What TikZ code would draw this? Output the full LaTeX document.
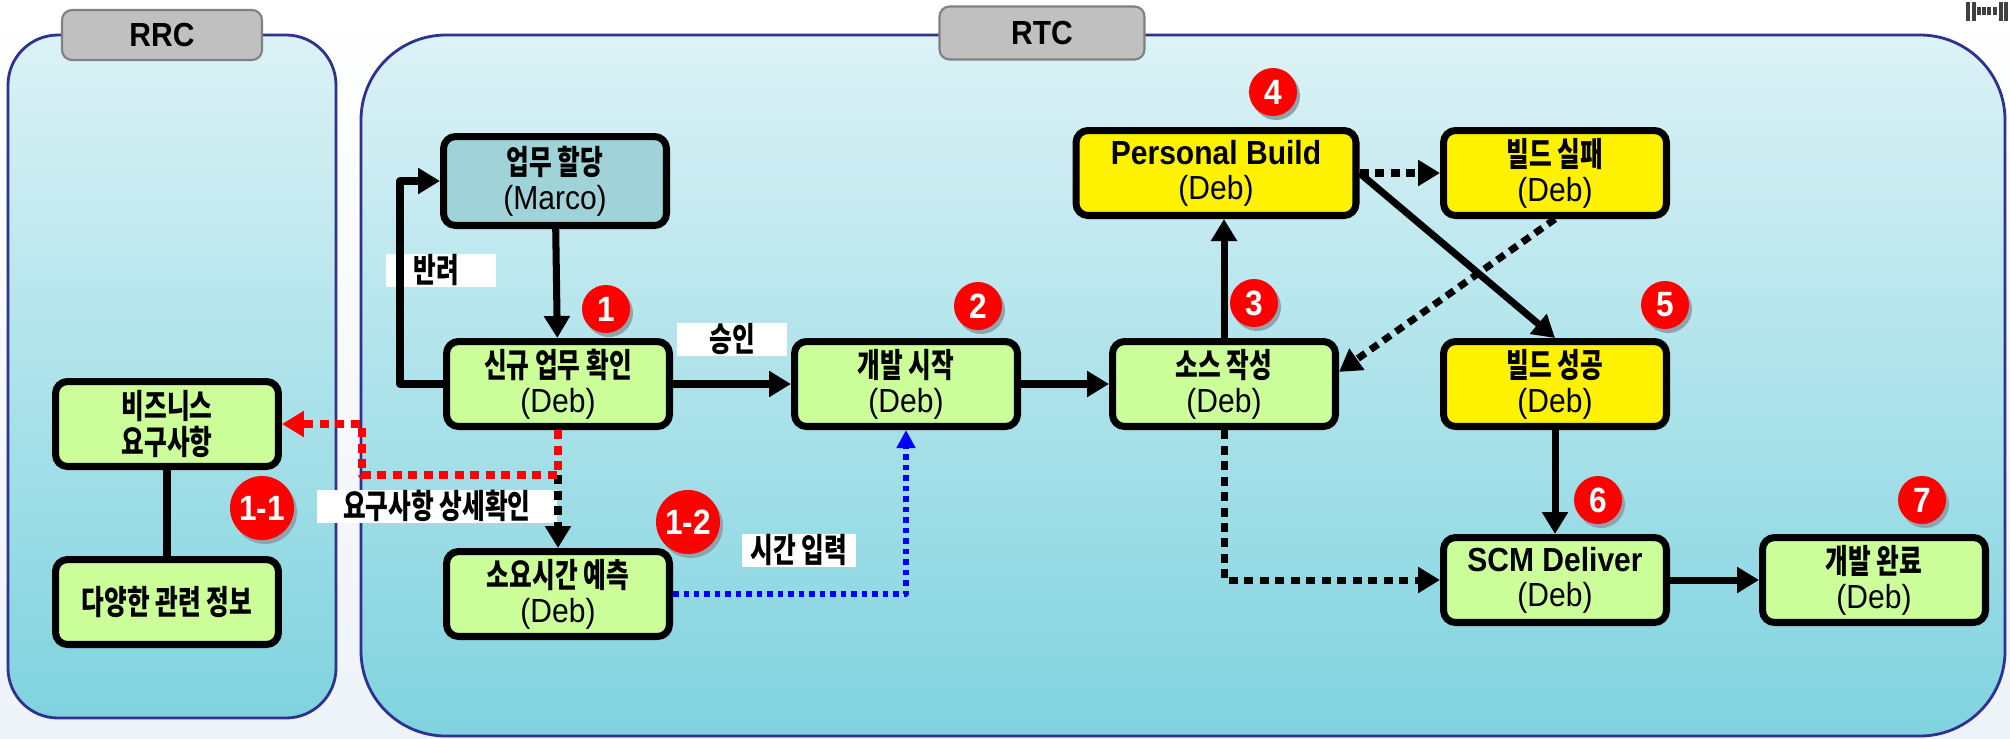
\documentclass[tikz,border=0pt]{standalone}
\usepackage{fontspec}
\setmainfont{Liberation Sans}[FakeStretch=0.9]
\newfontfamily\krfont{Noto Sans CJK KR}[FakeStretch=0.74]
\newcommand{\kr}[1]{{\krfont\bfseries #1}}
\usetikzlibrary{arrows.meta}
\definecolor{boxgreen}{HTML}{CCFF99}
\definecolor{boxteal}{HTML}{A0D3D8}
\definecolor{panetop}{HTML}{DCF2F6}
\definecolor{panebot}{HTML}{7FD3DF}
\definecolor{paneline}{HTML}{2E3192}
\definecolor{tabgray}{HTML}{C0C0C0}
\definecolor{bgbot}{HTML}{EEF3FA}
\definecolor{badgeshade}{HTML}{8FA3AD}
\tikzset{
  pane/.style={draw=paneline, line width=1.6pt, top color=panetop, bottom color=panebot},
  tab/.style={draw=gray, fill=tabgray, line width=1.2pt, rounded corners=0.2cm, font=\fontsize{19}{19}\selectfont\bfseries},
  box/.style={draw, line width=4pt, rounded corners=0.24cm, minimum width=4.46cm, minimum height=1.7cm,
    inner sep=0pt, align=center, font=\fontsize{19}{20}\selectfont},
  gbox/.style={box, fill=boxgreen},
  ybox/.style={box, fill=yellow},
  tbox/.style={box, fill=boxteal},
  flow/.style={line width=4pt, -{Triangle[length=0.44cm,width=0.5cm]}},
  dflow/.style={flow, dash pattern=on 0.18cm off 0.13cm},
  rflow/.style={dflow, red},
  bflow/.style={line width=3pt, blue, dash pattern=on 0.11cm off 0.1cm, -{Triangle[length=0.36cm,width=0.36cm]}},
  tag/.style={fill=white, inner sep=0pt, minimum height=0.66cm, font=\fontsize{19}{19}\selectfont\krfont\bfseries},
  badgetxt/.style={text=white, inner sep=0pt, font=\fontsize{20}{20}\selectfont\bfseries}
}
\begin{document}
\begin{tikzpicture}[x=0.02cm, y=-0.02cm, line join=round]
\useasboundingbox (0,0) rectangle (2010,738);
\fill[top color=white, bottom color=bgbot] (0,0) rectangle (2010,738);

% panels
\draw[pane, rounded corners=1cm] (8,35) rectangle (336,718);
\draw[pane, rounded corners=1.7cm] (361,35) rectangle (2005,736);
\node[tab, minimum width=4cm, minimum height=1cm] (rrc) at (162,35) {RRC};
\node[tab, minimum width=4.1cm, minimum height=1.06cm] (rtc) at (1042,33) {RTC};
\foreach \bx in {1966,1972,1999,2004} \fill[black!75] (\bx,2) rectangle ++(4,19);
\foreach \bx in {1977,1982,1987,1993} \fill[black!75] (\bx,7) rectangle ++(3.5,8);

% RRC
\node[gbox] (biz) at (167,424) {\kr{비즈니스}\\\kr{요구사항}};
\node[gbox] (info) at (167,602) {\kr{다양한 관련 정보}};

% RTC
\node[tbox, minimum height=1.78cm] (assign) at (555,181) {\kr{업무 할당}\\(Marco)};
\node[gbox] (newtask) at (558,384) {\kr{신규 업무 확인}\\(Deb)};
\node[gbox] (estimate) at (558,594) {\kr{소요시간 예측}\\(Deb)};
\node[gbox] (devstart) at (906,384) {\kr{개발 시작}\\(Deb)};
\node[gbox] (source) at (1224,384) {\kr{소스 작성}\\(Deb)};
\node[ybox, minimum width=5.6cm] (pbuild) at (1216,173) {\textbf{Personal Build}\\(Deb)};
\node[ybox] (fail) at (1555,173) {\kr{빌드 실패}\\(Deb)};
\node[ybox] (success) at (1555,384) {\kr{빌드 성공}\\(Deb)};
\node[gbox] (scm) at (1555,580) {\textbf{SCM Deliver}\\(Deb)};
\node[gbox] (done) at (1874,580) {\kr{개발 완료}\\(Deb)};

% labels
\node[tag, minimum width=2.2cm] (lreturn) at (441,270) {\hspace*{0.1cm}반려\hspace*{0.3cm}};
\node[tag, minimum width=2.2cm] (lapprove) at (732,339) {승인};
\node[tag, minimum width=4.8cm] (ldetail) at (437,506) {요구사항 상세확인};
\node[tag, minimum width=2.28cm] (ltime) at (799,550) {시간 입력};

% connectors
\coordinate (back) at (400,384);
\coordinate (rqturn) at (362,475);
\draw[line width=4pt] (biz) -- (info);
\draw[flow] (assign) -- (newtask);
\draw[flow] (newtask.west) -- (back) |- (assign.west);
\draw[flow] (newtask) -- (devstart);
\draw[flow] (devstart) -- (source);
\draw[flow] (source.north) -- (source.north |- pbuild.south);
\draw[dflow] (pbuild.east) -- (fail.west);
\draw[flow] (pbuild.east) -- (success.north);
\draw[dflow] (fail.south) -- (source.6);
\draw[flow] (success) -- (scm);
\draw[dflow] (source.south) |- (scm.west);
\draw[flow] (scm) -- (done);
\draw[dflow] (estimate.north |- rqturn) -- (estimate.north);
\draw[rflow] (newtask.south) |- (rqturn) |- (biz.east);
\draw[bflow] (estimate.east) -| (devstart.south);

% badges
\foreach \nm/\px/\py/\rr/\txt in {b1/606/309/24/1, b2/978/306/24/2, b3/1254/303/24/3, b4/1273/92/24/4,
  b5/1665/305/24/5, b6/1598/500/24/6, b7/1922/500/24/7, b11/262/508/32/1-1, b12/688/522/32/1-2}{
  \fill[badgeshade] (\px+3,\py+4) circle[radius=\rr];
  \fill[red] (\px,\py) circle[radius=\rr];
  \node[badgetxt] (\nm) at (\px,\py) {\txt};
}
\end{tikzpicture}
\end{document}
